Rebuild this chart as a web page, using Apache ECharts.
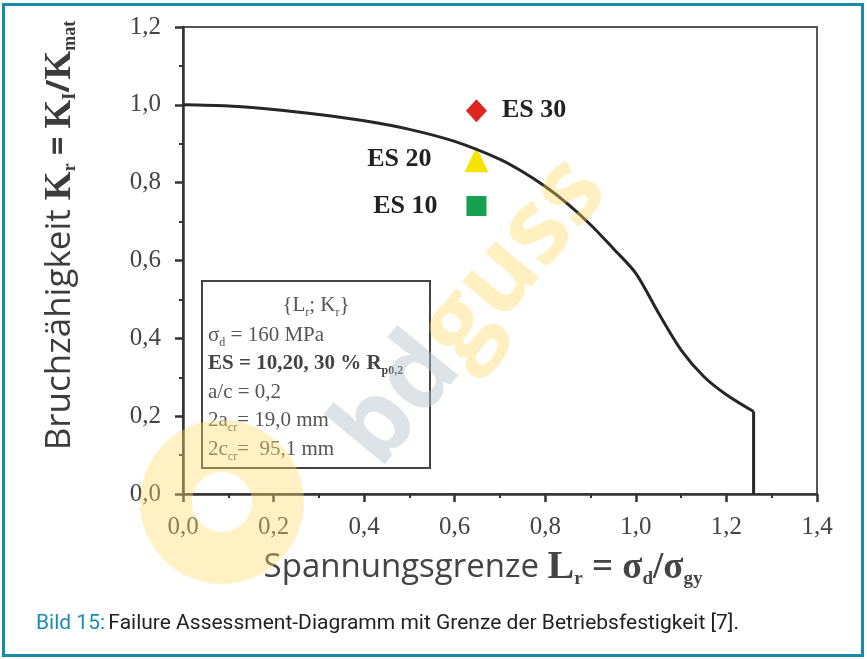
<!DOCTYPE html>
<html>
<head>
<meta charset="utf-8">
<script src="https://cdn.jsdelivr.net/npm/echarts@6/dist/echarts.min.js"></script>
<style>
  html, body { margin: 0; padding: 0; background: #fff; }
  #chart { width: 867px; height: 659px; }
</style>
</head>
<body>
<div id="chart"></div>
<script>
// failure assessment curve Kr(Lr)
const curveLr = [0, 0.1, 0.2, 0.3, 0.4, 0.5, 0.6, 0.7, 0.75, 0.8, 0.85, 0.9, 0.95, 1.0, 1.05, 1.1, 1.15, 1.2, 1.26];
const curveKr = [1.0, 0.997, 0.988, 0.975, 0.959, 0.937, 0.906, 0.86, 0.828, 0.79, 0.745, 0.692, 0.631, 0.567, 0.465, 0.37, 0.302, 0.255, 0.212];
const cutoffLr = 1.26;

// assessment points
const pointNames = ['ES 30', 'ES 20', 'ES 10'];
const pointLr = [0.648, 0.648, 0.648];
const pointKr = [0.985, 0.859, 0.74];

const fmt = v => v.toFixed(1).replace('.', ',');

const chart = echarts.init(document.getElementById('chart'));

const serif = 'Liberation Serif';
const sans = 'Open Sans';
const cond = 'Roboto';

function esLabel(pos, dist, text) {
  return { show: true, position: pos, distance: dist, formatter: text, fontFamily: serif, fontWeight: 'bold', fontSize: 26, color: '#222' };
}

const option = {
  animation: false,
  grid: {
    left: 183, right: 50, top: 27, bottom: 165,
    show: true, borderColor: '#555', borderWidth: 2
  },
  xAxis: {
    type: 'value', min: 0, max: 1.4, interval: 0.2,
    axisLine: { lineStyle: { color: '#333', width: 2.5 } },
    axisTick: { length: 8, lineStyle: { color: '#333', width: 2.5 } },
    minorTick: { show: true, splitNumber: 2, length: 4, lineStyle: { color: '#333', width: 2 } },
    splitLine: { show: false },
    axisLabel: { formatter: fmt, margin: 21, fontFamily: serif, fontSize: 25, color: '#444' },
    name: '{t|Spannungsgrenze }{m|L}{s|r}{o| = σ}{s|d}{o|/σ}{s|gy}',
    nameLocation: 'middle', nameGap: 54,
    nameTextStyle: {
      padding: [0, 34, 0, 0],
      rich: {
        t: { fontFamily: sans, fontSize: 33, color: '#444', lineHeight: 40 },
        m: { fontFamily: serif, fontWeight: 'bold', fontSize: 40, color: '#444', lineHeight: 40 },
        o: { fontFamily: serif, fontWeight: 'bold', fontSize: 37, color: '#444', lineHeight: 40 },
        s: { fontFamily: serif, fontWeight: 'bold', fontSize: 19, color: '#444', lineHeight: 19, padding: [22, 0, 0, 0] }
      }
    }
  },
  yAxis: {
    type: 'value', min: 0, max: 1.2, interval: 0.2,
    axisLine: { lineStyle: { color: '#333', width: 2.5 } },
    axisTick: { length: 8, lineStyle: { color: '#333', width: 2.5 } },
    minorTick: { show: true, splitNumber: 2, length: 4, lineStyle: { color: '#333', width: 2 } },
    splitLine: { show: false },
    axisLabel: { formatter: fmt, margin: 22, fontFamily: serif, fontSize: 25, color: '#444' },
    name: '{t|Bruchzähigkeit }{m|K}{s|r}{o| = }{m|K}{s|I}{o|/}{m|K}{s|mat}',
    nameLocation: 'middle', nameRotate: 90, nameGap: 103,
    nameTextStyle: {
      padding: [0, 0, 0, 50],
      rich: {
        t: { fontFamily: sans, fontSize: 35, color: '#3c3c3c', lineHeight: 40 },
        m: { fontFamily: serif, fontWeight: 'bold', fontSize: 37, color: '#3c3c3c', lineHeight: 40 },
        o: { fontFamily: sans, fontWeight: 'bold', fontSize: 32, color: '#3c3c3c', lineHeight: 40 },
        s: { fontFamily: serif, fontWeight: 'bold', fontSize: 18, color: '#3c3c3c', lineHeight: 18, padding: [20, 0, 0, 0] }
      }
    }
  },
  graphic: [
    // outer frame
    { type: 'rect', shape: { x: 3.5, y: 4.5, width: 859, height: 651 }, style: { fill: 'none', stroke: '#1789ab', lineWidth: 3 }, silent: true },
    // caption
    {
      type: 'text', left: 36, top: 613,
      style: {
        text: '{b|Bild 15:} {c|Failure Assessment-Diagramm mit Grenze der Betriebsfestigkeit [7].}',
        rich: {
          b: { fontFamily: cond, fontSize: 21, fill: '#1b8cb3' },
          c: { fontFamily: cond, fontSize: 21, fill: '#222' }
        }
      }
    },
    // info box
    {
      type: 'group', left: 201, top: 280, z: 5,
      children: [
        { type: 'rect', shape: { x: 0, y: 0, width: 228, height: 187 }, style: { fill: '#fff', stroke: '#444', lineWidth: 2 } },
        {
          type: 'text', x: 114, y: 24,
          style: {
            text: '{{n|L}{s|r}{n|; K}{s|r}}',
            align: 'center', verticalAlign: 'middle',
            fontFamily: serif, fontSize: 21, fill: '#555',
            rich: {
              n: { fontFamily: serif, fontSize: 21, fill: '#555', lineHeight: 28 },
              s: { fontFamily: serif, fontSize: 12, fill: '#555', lineHeight: 12, padding: [15, 0, 0, 0] }
            }
          }
        },
        {
          type: 'text', x: 6, y: 40,
          style: {
            text: [
              '{n|σ}{s|d}{n| = 160 MPa}',
              '{b|ES = 10,20, 30 % R}{sb|p0,2}',
              '{n|a/c = 0,2}',
              '{n|2a}{s|cr}{n|= 19,0 mm}',
              '{n|2c}{s|cr}{n|=  95,1 mm}'
            ].join('\n'),
            rich: {
              n: { fontFamily: serif, fontSize: 21, fill: '#555', lineHeight: 28.5 },
              b: { fontFamily: serif, fontSize: 21, fontWeight: 'bold', fill: '#444', lineHeight: 28.5 },
              s: { fontFamily: serif, fontSize: 12, fill: '#555', lineHeight: 12, padding: [15, 0, 0, 0] },
              sb: { fontFamily: serif, fontSize: 12, fontWeight: 'bold', fill: '#444', lineHeight: 12, padding: [15, 0, 0, 0] }
            }
          }
        }
      ]
    },
    // watermark
    {
      type: 'ring', z: 20, silent: true,
      shape: { cx: 222, cy: 502, r: 82, r0: 30 },
      style: { fill: 'rgba(252, 222, 110, 0.4)' }
    },
    {
      type: 'text', x: 472, y: 312, rotation: 0.88, z: 20, silent: true,
      style: {
        text: '{g|bd}{y|guss}',
        align: 'center', verticalAlign: 'middle',
        rich: {
          g: { fontFamily: sans, fontWeight: 'bold', fontSize: 104, fill: 'rgba(180, 192, 202, 0.45)' },
          y: { fontFamily: sans, fontWeight: 'bold', fontSize: 104, fill: 'rgba(252, 215, 90, 0.38)' }
        }
      }
    }
  ],
  series: [
    {
      name: 'curve', type: 'line', smooth: 0.3, symbol: 'none',
      lineStyle: { color: '#262626', width: 3 },
      data: curveLr.map((x, i) => [x, curveKr[i]])
    },
    {
      name: 'cutoff', type: 'line', symbol: 'none',
      lineStyle: { color: '#262626', width: 3 },
      data: [[cutoffLr, curveKr[curveKr.length - 1]], [cutoffLr, 0]]
    },
    {
      name: pointNames[0], type: 'scatter', symbol: 'diamond', symbolSize: [21, 23],
      itemStyle: { color: '#e1241f', opacity: 1 },
      label: esLabel('right', 15, pointNames[0]),
      data: [[pointLr[0], pointKr[0]]]
    },
    {
      name: pointNames[1], type: 'scatter', symbol: 'triangle', symbolSize: [24, 25],
      itemStyle: { color: '#f6e400', opacity: 1 },
      label: esLabel('left', 33, pointNames[1]),
      data: [[pointLr[1], pointKr[1]]]
    },
    {
      name: pointNames[2], type: 'scatter', symbol: 'rect', symbolSize: 20,
      itemStyle: { color: '#16a04f', opacity: 1 },
      label: esLabel('left', 29, pointNames[2]),
      data: [[pointLr[2], pointKr[2]]]
    }
  ]
};

chart.setOption(option);
</script>
</body>
</html>
